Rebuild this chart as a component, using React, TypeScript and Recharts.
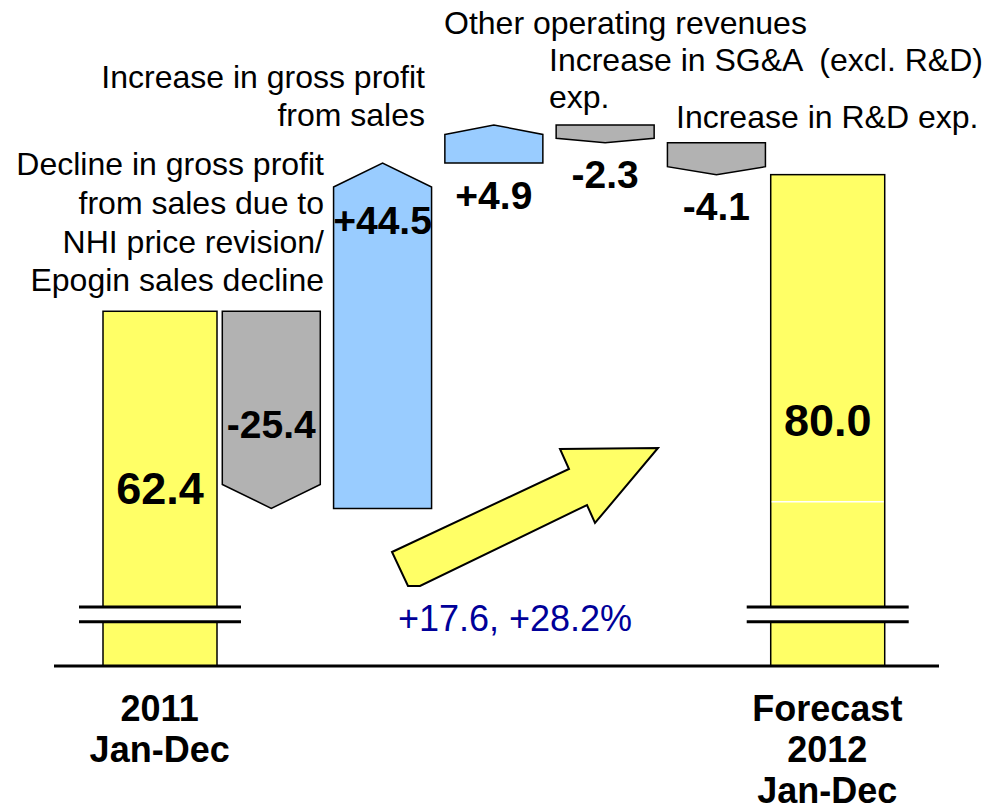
import { BarChart, Bar, XAxis, YAxis, LabelList, Customized } from 'recharts';

// ── Data ────────────────────────────────────────────────────────────────
const categories = [
    '2011 Jan-Dec',
    'Decline in gross profit',
    'Increase in gross profit',
    'Other operating revenues',
    'Increase in SG&A',
    'Increase in R&D exp.',
    'Forecast 2012 Jan-Dec',
];
const changes = [62.4, -25.4, 44.5, 4.9, -2.3, -4.1, 80.0];
const isTotal = [true, false, false, false, false, false, true];
const valueLabels = ['62.4', '-25.4', '+44.5', '+4.9', '-2.3', '-4.1', '80.0'];
const tickLabels = [['2011', 'Jan-Dec'], [], [], [], [], [], ['Forecast', '2012', 'Jan-Dec']];

// broken axis: the visible part starts above zero
const axisFloor = 16.7;
const axisTop = 102.5;
const breakLow = 22.4;
const breakHigh = 24.3;
const seamValue = 37.85;

let running = 0;
const data = categories.map((name, i) => {
    let range: number[];
    if (isTotal[i]) {
        range = [axisFloor, changes[i]];
        running = changes[i];
    } else {
        const next = Math.round((running + changes[i]) * 10) / 10;
        range = [Math.min(running, next), Math.max(running, next)];
        running = next;
    }
    return { name, range, label: valueLabels[i], kind: isTotal[i] ? 'total' : changes[i] < 0 ? 'down' : 'up' };
});

const FONT = '"Liberation Sans", Arial, sans-serif';
const LABEL_PLACE = ['center', 'mid', 'top', 'below', 'below', 'below', 'center'];

const WaterfallShape = (props: any) => {
    const { x, y, width, height, payload, index } = props;
    if (payload.kind === 'total') {
        // pixel position of a value inside this bar (bar runs from axisFloor to its total)
        const [lo, hi] = payload.range;
        const bottom = y + height;
        const py = (v: number) => bottom - ((v - lo) / (hi - lo)) * height;
        const yHigh = py(breakHigh);
        const yLow = py(breakLow);
        return (
            <g>
                <rect x={x - 8} y={y} width={width + 16} height={height} fill="#FFFF66" stroke="#000" strokeWidth={1.5} />
                {index === 6 && (
                    <line x1={x - 7} x2={x + width + 7} y1={py(seamValue)} y2={py(seamValue)} stroke="#fff" strokeWidth={1.5} />
                )}
                <rect x={x - 10} y={yHigh} width={width + 20} height={yLow - yHigh} fill="#fff" />
                <line x1={x - 32} x2={x + width + 32} y1={yHigh} y2={yHigh} stroke="#000" strokeWidth={3} />
                <line x1={x - 32} x2={x + width + 32} y1={yLow} y2={yLow} stroke="#000" strokeWidth={3} />
            </g>
        );
    }
    const tip = Math.min(24, height * 0.25);
    const cx = x + width / 2;
    const down = payload.kind === 'down';
    const pts = down
        ? `${x},${y} ${x + width},${y} ${x + width},${y + height - tip} ${cx},${y + height} ${x},${y + height - tip}`
        : `${x},${y + tip} ${cx},${y} ${x + width},${y + tip} ${x + width},${y + height} ${x},${y + height}`;
    return <polygon points={pts} fill={down ? '#B2B2B2' : '#99CCFF'} stroke="#000" strokeWidth={1.5} />;
};

const ValueLabel = (props: any) => {
    const vb = props.viewBox ?? props;
    const { x, y, width, height } = vb;
    const index = props.index ?? 0;
    const place = LABEL_PLACE[index];
    const cx = x + width / 2;
    let cy = y + height / 2;
    if (place === 'mid') cy = y + height / 2 + 15;
    if (place === 'top') cy = y + 57;
    if (place === 'below') cy = y + height + 32;
    const big = place === 'center';
    return (
        <text x={cx} y={cy} textAnchor="middle" dominantBaseline="central" fontFamily={FONT}
            fontWeight="bold" fontSize={big ? 45 : 39} fill="#000">
            {props.value}
        </text>
    );
};

const CategoryTick = (props: any) => {
    const { x, y, index } = props;
    const lines = tickLabels[index] || [];
    return (
        <text x={x} y={y} textAnchor="middle" fontFamily={FONT} fontWeight="bold" fontSize={36} fill="#000">
            {lines.map((l, i) => (
                <tspan key={i} x={x} dy={i === 0 ? 47 : 41}>{l}</tspan>
            ))}
        </text>
    );
};

const Annotations = () => (
    <g fontFamily={FONT} fontSize={32} fill="#000">
        <text x={425} y={88} textAnchor="end">Increase in gross profit</text>
        <text x={425} y={126} textAnchor="end">from sales</text>
        <text x={324} y={175} textAnchor="end">Decline in gross profit</text>
        <text x={324} y={214} textAnchor="end">from sales due to</text>
        <text x={324} y={253} textAnchor="end">NHI price revision/</text>
        <text x={324} y={291} textAnchor="end">Epogin sales decline</text>
        <text x={444} y={34}>Other operating revenues</text>
        <text x={549} y={71} xmlSpace="preserve">Increase in SG&amp;A  (excl. R&amp;D)</text>
        <text x={549} y={108}>exp.</text>
        <text x={676} y={128}>Increase in R&amp;D exp.</text>
        <polygon points="392,552 569,469 560,449 658,448 595,523 587,505 420,586 408,586"
            fill="#FFFF66" stroke="#000" strokeWidth={2} strokeLinejoin="miter" />
        <text x={515} y={631} textAnchor="middle" fontSize={36} fill="#000099">+17.6, +28.2%</text>
    </g>
);

export default function App() {
    return (
        <div style={{ width: 997, height: 811, background: '#fff' }}>
            <style>{'body{margin:0}'}</style>
            <BarChart width={997} height={811} data={data} margin={{ top: 0, right: 58, bottom: 0, left: 54 }} barSize={98}>
                <XAxis dataKey="name" height={145} interval={0} padding={{ left: 50, right: 56 }}
                    axisLine={{ stroke: '#000', strokeWidth: 3 }} tickLine={false} tick={<CategoryTick />} />
                <YAxis hide domain={[axisFloor, axisTop]} allowDataOverflow />
                <Bar dataKey="range" shape={<WaterfallShape />} isAnimationActive={false}>
                    <LabelList dataKey="label" content={<ValueLabel />} />
                </Bar>
                <Customized component={Annotations} />
            </BarChart>
        </div>
    );
}
